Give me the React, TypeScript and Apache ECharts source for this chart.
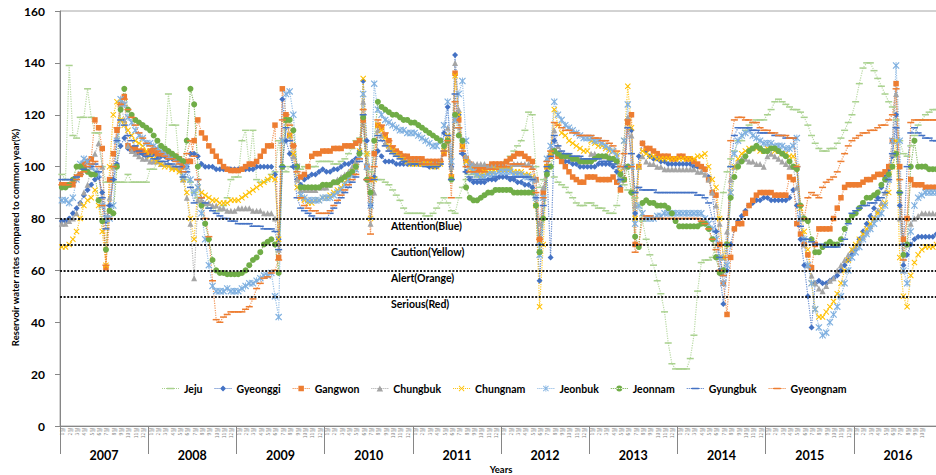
import React, { useEffect, useRef } from "react";
import * as echarts from "echarts";

const years = ["2007", "2008", "2009", "2010", "2011", "2012", "2013", "2014", "2015", "2016"];
const monthTicks = ["1월", "2월", "3월", "4월", "5월", "6월", "7월", "8월", "9월", "10월", "11월", "12월"];
const thresholdValues = [80, 70, 60, 50];
const thresholdLabels = ["Attention(Blue)", "Caution(Yellow)", "Alert(Orange)", "Serious(Red)"];
const seriesNames = ["Jeju", "Gyeonggi", "Gangwon", "Chungbuk", "Chungnam", "Jeonbuk", "Jeonnam", "Gyungbuk", "Gyeongnam"];

// half-monthly values, 24 per year, 2007..2016
const jeju = [
  97, 95, 139, 112, 111, 119, 119, 130, 119, 113, 113, 100, 94, 94, 94, 94, 94, 94, 97, 94, 94, 94, 94, 94,
  99, 99, 102, 105, 105, 128, 116, 116, 100, 96, 95, 94, 90, 88, 86, 85, 84, 84, 83, 83, 85, 88, 95, 96,
  96, 110, 114, 100, 114, 95, 94, 94, 95, 97, 98, 110, 100, 98, 100, 100, 99, 99, 100, 100, 100, 100, 102, 102,
  102, 102, 101, 101, 102, 103, 105, 107, 110, 111, 110, 105, 98, 96, 95, 95, 94, 93, 91, 89, 87, 84, 82, 82,
  82, 82, 82, 81, 81, 82, 84, 86, 88, 86, 83, 82, 88, 92, 95, 97, 97, 96, 96, 97, 98, 98, 99, 100,
  100, 102, 104, 106, 108, 110, 114, 121, 120, 100, 92, 95, 98, 100, 96, 94, 93, 92, 90, 88, 86, 85, 85, 86,
  86, 85, 84, 84, 83, 82, 82, 85, 95, 93, 91, 90, 88, 85, 79, 72, 66, 62, 56, 51, 44, 32, 24, 22,
  22, 22, 22, 26, 35, 52, 63, 64, 64, 65, 70, 80, 90, 98, 103, 106, 110, 110, 114, 116, 117, 118, 118, 118,
  120, 122, 125, 126, 125, 124, 123, 122, 122, 121, 119, 116, 112, 109, 107, 106, 106, 107, 107, 109, 111, 114, 117, 120,
  125, 132, 138, 140, 140, 137, 134, 131, 128, 125, 123, 118, 110, 105, 104, 108, 112, 116, 118, 120, 121, 122, 122, 122,
];
const gyeonggi = [
  79, 79, 80, 82, 84, 86, 89, 91, 93, 95, 96, 90, 79, 85, 95, 101, 108, 111, 107, 106, 106, 105, 105, 104,
  105, 105, 104, 104, 104, 103, 103, 103, 102, 95, 100, 105, 105, 104, 101, 100, 100, 100, 99, 99, 99, 99, 99, 99,
  99, 99, 99, 99, 99, 100, 100, 100, 100, 100, 97, 72, 126, 110, 105, 100, 95, 93, 95, 96, 97, 97, 98, 99,
  98, 98, 99, 99, 100, 101, 101, 102, 103, 106, 133, 110, 85, 96, 106, 104, 102, 102, 102, 101, 101, 101, 101, 101,
  101, 101, 101, 101, 100, 100, 100, 101, 113, 123, 100, 143, 120, 105, 98, 95, 94, 94, 94, 94, 95, 95, 95, 96,
  96, 96, 95, 95, 94, 94, 93, 93, 92, 85, 56, 80, 98, 65, 110, 104, 103, 102, 102, 101, 101, 100, 100, 100,
  100, 100, 101, 101, 101, 101, 100, 98, 92, 95, 118, 114, 82, 104, 109, 106, 104, 103, 103, 102, 102, 101, 101, 101,
  101, 101, 101, 101, 100, 100, 100, 99, 96, 90, 75, 60, 47, 60, 70, 76, 79, 81, 83, 85, 86, 87, 87, 88,
  88, 87, 87, 87, 87, 87, 88, 91, 85, 72, 62, 50, 38, 55, 56, 55, 55, 56, 57, 58, 60, 62, 64, 66,
  68, 72, 75, 78, 81, 84, 88, 92, 96, 99, 104, 120, 85, 62, 66, 70, 72, 73, 73, 73, 73, 73, 74, 74,
];
const gangwon = [
  93, 93, 93, 93, 96, 97, 101, 102, 103, 118, 115, 107, 61, 95, 105, 114, 124, 127, 108, 107, 107, 106, 106, 105,
  106, 106, 105, 105, 105, 104, 104, 104, 103, 100, 102, 102, 110, 118, 113, 111, 108, 106, 104, 102, 100, 99, 98.5, 98.5,
  98.5, 99, 100, 101, 101, 102, 104, 106, 108, 108, 116, 65, 130, 120, 112, 108, 100, 96, 97, 100, 104, 105, 105, 106,
  106, 106, 107, 107, 107, 108, 108, 108, 109, 110, 118, 100, 95, 105, 116, 115, 112, 110, 107, 106, 105, 104, 104, 103,
  103, 103, 103, 102, 102, 102, 102, 102, 105, 110, 96, 136, 118, 108, 103, 101, 100, 99, 99, 99, 100, 101, 101, 101,
  101, 102, 103, 104, 105, 105, 104, 103, 102, 95, 72, 90, 100, 104, 106, 104, 102, 100, 98, 96, 95, 94, 94, 96,
  96, 96, 95, 95, 95, 95, 96, 94, 91, 95, 117, 120, 70, 100, 109, 107, 107, 106, 105, 104, 104, 104, 103, 103,
  104, 104, 103, 103, 102, 101, 100, 99, 95, 90, 89, 70, 55, 43, 65, 76, 78, 78, 82, 85, 87, 89, 90, 90,
  90, 90, 89, 89, 89, 89, 96, 95, 78, 74, 70, 66, 61, 70, 76, 76, 76, 76, 80, 84, 88, 92, 93, 93,
  93, 93, 94, 95, 95, 96, 97, 97, 98, 100, 110, 132, 100, 72, 80, 95, 93, 93, 93, 92, 92, 92, 92, 92,
];
const chungbuk = [
  78, 78, 79, 80, 82, 86, 90, 93, 100, 105, 109, 100, 80, 88, 100, 111, 124, 118, 108, 106, 105, 104, 103, 103,
  102, 102, 102, 101, 101, 101, 100, 100, 99, 95, 88, 78, 57, 87, 87, 86, 86, 85, 85, 84, 84, 83, 83, 83,
  84, 84, 84, 84, 83, 83, 83, 82, 82, 82, 80, 68, 100, 118, 112, 104, 95, 91, 91, 91, 91, 91, 92, 92,
  92, 93, 94, 95, 96, 97, 98, 100, 102, 106, 125, 100, 78, 90, 114, 112, 109, 107, 106, 105, 104, 103, 102, 102,
  102, 102, 101, 101, 101, 101, 101, 102, 108, 115, 100, 140, 122, 110, 104, 102, 101, 101, 101, 101, 100, 100, 100, 100,
  100, 100, 100, 101, 101, 101, 101, 101, 100, 95, 78, 92, 103, 106, 114, 108, 105, 104, 104, 103, 103, 103, 102, 102,
  105, 105, 104, 104, 104, 104, 103, 102, 95, 100, 119, 112, 85, 100, 104, 102, 101, 101, 100, 100, 99, 99, 99, 99,
  99, 99, 99, 99, 99, 98, 98, 97, 95, 90, 85, 78, 65, 75, 95, 100, 102, 103, 103, 102, 102, 101, 101, 100,
  104, 105, 104, 103, 102, 101, 100, 100, 92, 80, 70, 62, 58, 55, 53, 52, 54, 56, 57, 60, 62, 64, 66, 68,
  69, 71, 73, 75, 77, 80, 83, 86, 90, 95, 105, 128, 80, 60, 70, 78, 80, 81, 82, 82, 82, 82, 82, 82,
];
const chungnam = [
  69, 69, 70, 72, 75, 80, 85, 87, 88, 91, 85, 75, 62, 100, 120, 125, 118, 116, 114, 112, 110, 109, 108, 106,
  104, 103, 102, 101, 100, 100, 99, 99, 98, 95, 90, 80, 72, 92, 90, 89, 88, 87, 87, 86, 86, 86, 87, 87,
  87, 88, 89, 90, 91, 92, 93, 94, 95, 96, 95, 72, 110, 118, 112, 105, 92, 88, 87, 86, 86, 87, 87, 88,
  88, 89, 90, 91, 92, 94, 96, 98, 100, 106, 134, 105, 80, 95, 116, 114, 111, 108, 106, 105, 104, 103, 102, 101,
  101, 101, 101, 101, 101, 100, 100, 101, 106, 112, 96, 135, 120, 108, 102, 99, 98, 97, 97, 98, 98, 98, 99, 99,
  99, 99, 99, 98, 98, 98, 97, 97, 96, 85, 46, 70, 100, 105, 122, 116, 113, 112, 110, 109, 108, 107, 106, 106,
  110, 109, 108, 108, 107, 106, 106, 105, 98, 110, 131, 115, 80, 100, 106, 105, 104, 104, 103, 103, 103, 103, 103, 103,
  103, 103, 103, 103, 103, 104, 104, 105, 100, 95, 92, 80, 65, 70, 90, 100, 103, 105, 106, 107, 107, 107, 106, 106,
  107, 107, 106, 106, 105, 105, 104, 104, 100, 84, 75, 68, 55, 45, 42, 42, 44, 46, 48, 51, 55, 60, 64, 68,
  70, 72, 74, 76, 78, 80, 82, 84, 86, 90, 100, 110, 65, 50, 46, 58, 63, 66, 68, 69, 69, 69, 70, 70,
];
const jeonbuk = [
  87, 87, 86, 88, 95, 101, 103, 102, 100, 98, 97, 85, 80, 80, 85, 110, 126, 124, 119, 117, 114, 112, 111, 109,
  109, 108, 107, 106, 105, 104, 104, 103, 102, 96, 100, 95, 90, 92, 82, 72, 62, 54, 52, 52, 52, 53, 52, 52,
  52, 53, 54, 55, 55, 56, 57, 58, 58, 59, 50, 42, 110, 128, 129, 120, 100, 89, 88, 87, 87, 87, 87, 88,
  88, 88, 89, 90, 91, 93, 95, 97, 99, 104, 128, 100, 85, 132, 122, 120, 118, 117, 116, 115, 114, 114, 113, 113,
  113, 112, 111, 110, 109, 108, 108, 110, 116, 125, 102, 118, 128, 133, 110, 100, 98, 97, 96, 96, 97, 97, 97, 98,
  98, 98, 98, 97, 97, 97, 96, 96, 95, 88, 66, 88, 103, 108, 125, 120, 118, 116, 115, 114, 113, 112, 111, 111,
  111, 110, 110, 109, 108, 107, 106, 104, 95, 110, 124, 100, 78, 85, 82, 80, 80, 80, 81, 81, 82, 82, 82, 82,
  82, 82, 82, 82, 82, 82, 82, 80, 78, 76, 72, 65, 55, 62, 90, 105, 110, 112, 113, 114, 112, 111, 110, 109,
  109, 109, 108, 108, 108, 107, 107, 108, 111, 80, 72, 62, 55, 45, 38, 35, 36, 40, 43, 46, 50, 55, 60, 65,
  67, 69, 72, 74, 76, 78, 80, 82, 85, 95, 110, 139, 110, 60, 55, 75, 85, 88, 89, 90, 90, 90, 90, 90,
];
const jeonnam = [
  92, 92, 93, 95, 100, 100, 99, 98, 97, 97, 87, 79, 68, 83, 82, 100, 122, 130, 122, 120, 118, 117, 116, 115,
  114, 112, 110, 108, 107, 106, 105, 104, 103, 102, 110, 130, 124, 100, 85, 78, 72, 64, 60, 59, 59, 58.5, 58.5, 58.5,
  58.5, 59, 60, 62, 64, 65, 67, 70, 71, 72, 70, 59, 100, 118, 118, 114, 100, 92, 92, 92, 92, 92, 92, 93,
  93, 93, 94, 94, 95, 96, 97, 98, 100, 105, 119, 95, 90, 110, 125, 123, 122, 121, 120, 120, 119, 118, 118, 117,
  117, 116, 115, 114, 113, 112, 111, 110, 108, 110, 95, 120, 112, 110, 92, 88, 87, 87, 88, 89, 90, 90, 91, 91,
  91, 91, 91, 90, 90, 90, 90, 90, 90, 85, 67, 80, 97, 100, 106, 105, 104, 104, 104, 103, 103, 102, 102, 102,
  102, 103, 104, 104, 104, 103, 103, 102, 97, 95, 100, 90, 73, 69, 86, 87, 86, 86, 85, 85, 85, 84, 82, 79,
  77, 77, 77, 77, 77, 77, 78, 78, 76, 72, 65, 59, 60, 70, 88, 96, 100, 102, 104, 106, 107, 108, 107, 106,
  106, 107, 107, 106, 105, 104, 102, 100, 99, 85, 80, 79, 72, 67, 67, 69, 70, 71, 70, 70, 72, 76, 79, 81,
  82, 84, 86, 88, 88, 89, 90, 93, 95, 97, 100, 105, 90, 66, 70, 100, 110, 100, 100, 100, 99, 99, 99, 99,
];
const gyungbuk = [
  95, 95, 95, 95, 96, 97, 99, 100, 100, 101, 98, 88, 76, 85, 95, 110, 118, 116, 112, 110, 108, 106, 105, 104,
  104, 103, 103, 102, 102, 101, 101, 100, 100, 96, 98, 92, 86, 95, 88, 86, 84, 83, 82, 81, 80, 80, 79, 79,
  78, 78, 78, 78, 77, 77, 77, 76, 76, 76, 75, 68, 100, 115, 110, 100, 88, 84, 83, 82, 81, 80, 80, 80,
  80, 82, 84, 86, 88, 90, 92, 94, 96, 102, 120, 95, 80, 95, 112, 110, 108, 106, 105, 104, 103, 102, 102, 101,
  101, 101, 101, 100, 100, 100, 100, 101, 106, 112, 95, 128, 115, 105, 98, 96, 95, 95, 95, 95, 95, 95, 96, 96,
  96, 96, 96, 96, 96, 96, 96, 96, 95, 88, 70, 85, 100, 104, 112, 108, 106, 105, 105, 104, 104, 104, 103, 103,
  103, 103, 103, 102, 102, 102, 101, 100, 95, 100, 115, 105, 90, 92, 91, 91, 91, 91, 90, 90, 90, 90, 90, 90,
  90, 90, 90, 90, 90, 89, 89, 88, 86, 80, 75, 65, 58, 70, 100, 112, 115, 115, 115, 115, 114, 114, 113, 113,
  113, 113, 112, 112, 112, 111, 111, 111, 100, 77, 72, 72, 71, 70, 70, 70, 69, 69, 69, 69, 70, 72, 78, 82,
  83, 84, 85, 85, 86, 86, 87, 88, 90, 95, 105, 115, 90, 70, 100, 113, 115, 113, 112, 111, 111, 110, 110, 110,
];
const gyeongnam = [
  93, 93, 93, 94, 95, 97, 98, 100, 101, 102, 100, 85, 62, 80, 100, 115, 124, 126, 122, 119, 116, 113, 111, 109,
  108, 107, 106, 105, 104, 103, 103, 102, 101, 98, 105, 110, 104, 95, 88, 80, 73, 56, 41, 40, 42, 43, 44, 44,
  44, 44, 45, 46, 49, 53, 55, 57, 57.5, 59, 60, 64, 118, 120, 116, 108, 98, 88, 85, 84, 83, 83, 82, 82,
  82, 83, 85, 87, 89, 91, 93, 95, 97, 103, 122, 95, 74, 100, 118, 116, 113, 110, 108, 106, 105, 104, 103, 102,
  102, 102, 101, 101, 101, 101, 101, 102, 106, 110, 88, 125, 115, 106, 100, 98, 98, 98, 98, 98, 99, 99, 99, 100,
  100, 100, 101, 101, 101, 101, 100, 100, 99, 90, 72, 88, 102, 106, 117, 116, 115, 114, 114, 113, 113, 112, 112, 112,
  112, 111, 111, 110, 110, 109, 108, 106, 100, 105, 118, 100, 67, 70, 80, 81, 81, 80, 80, 80, 80, 80, 80, 80,
  80, 80, 80, 80, 80, 80, 79, 78, 76, 72, 68, 60, 58, 65, 110, 118, 119, 119, 118, 118, 117, 117, 115, 114,
  114, 113, 113, 112, 112, 112, 111, 111, 100, 85, 80, 88, 90, 89, 88, 92, 94, 95, 96, 98, 102, 105, 108, 110,
  111, 112, 113, 113, 114, 114, 115, 116, 116, 118, 120, 130, 95, 64, 80, 117, 118, 118, 118, 118, 118, 118, 118, 118,
];

const seriesData = [jeju, gyeonggi, gangwon, chungbuk, chungnam, jeonbuk, jeonnam, gyungbuk, gyeongnam];
const seriesColors = ["#A9D18E", "#4472C4", "#ED7D31", "#A5A5A5", "#FFC000", "#7FB0E0", "#70AD47", "#4472C4", "#ED7D31"];

const X_SYM =
  "path://M0,1.2 L1.2,0 L5,3.8 L8.8,0 L10,1.2 L6.2,5 L10,8.8 L8.8,10 L5,6.2 L1.2,10 L0,8.8 L3.8,5 Z";
const AST_SYM =
  "path://M0,1.2 L1.2,0 L5,3.8 L8.8,0 L10,1.2 L6.2,5 L10,8.8 L8.8,10 L5,6.2 L1.2,10 L0,8.8 L3.8,5 Z M4.4,0 L5.6,0 L5.6,10 L4.4,10 Z";

const symbols: any[] = [
  { symbol: "rect", size: [7, 1.5] },
  { symbol: "diamond", size: 6 },
  { symbol: "rect", size: 5.5 },
  { symbol: "triangle", size: 6 },
  { symbol: X_SYM, size: 6 },
  { symbol: AST_SYM, size: 7 },
  { symbol: "circle", size: 6 },
  { symbol: "rect", size: [7, 1.5] },
  { symbol: "rect", size: [7, 1.5] },
];

// legend icons: dotted line + marker, drawn in a 34 x 16 box
const dots = Array.from({ length: 9 }, (_, k) => `M${k * 4},7h2v2h-2z`).join(" ");
const legendMarkers = [
  "M10,6.5h14v3h-14z",
  "M17,2L23,8L17,14L11,8Z",
  "M11.5,2.5h11v11h-11z",
  "M17,2L23.5,14L10.5,14Z",
  "M11.2,3.4L12.4,2.2L17,6.8L21.6,2.2L22.8,3.4L18.2,8L22.8,12.6L21.6,13.8L17,9.2L12.4,13.8L11.2,12.6L15.8,8Z",
  "M11.2,3.4L12.4,2.2L17,6.8L21.6,2.2L22.8,3.4L18.2,8L22.8,12.6L21.6,13.8L17,9.2L12.4,13.8L11.2,12.6L15.8,8Z M16.3,1.5h1.4v13h-1.4z",
  "M11,8A6,6 0 1,0 23,8A6,6 0 1,0 11,8Z",
  "M10,6.5h14v3h-14z",
  "M10,6.5h14v3h-14z",
];

export default function App() {
  const ref = useRef<HTMLDivElement>(null);
  useEffect(() => {
    if (!ref.current) return;
    const chart = echarts.init(ref.current, null, { renderer: "svg" });
    const categories: string[] = [];
    years.forEach((y) => {
      for (let h = 0; h < 24; h++) categories.push(`${y}-${h}`);
    });
    const lastLabelIndex = categories.length - 4;

    const series: any[] = seriesNames.map((name, i) => ({
      name,
      type: "line",
      data: seriesData[i],
      xAxisIndex: 0,
      symbol: symbols[i].symbol,
      symbolSize: symbols[i].size,
      showAllSymbol: true,
      itemStyle: { color: seriesColors[i] },
      lineStyle: { color: seriesColors[i], width: 1.2, type: "dotted", opacity: 0.8 },
      emphasis: { disabled: true },
    }));

    series.push({
      name: "thresholds",
      type: "line",
      data: categories.map(() => null),
      symbol: "none",
      silent: true,
      z: 5,
      markLine: {
        silent: true,
        symbol: "none",
        animation: false,
        lineStyle: { color: "#1a1a1a", width: 2, type: [2, 1.6] },
        label: {
          show: true,
          position: "insideStartBottom",
          formatter: (p: any) => p.name,
          padding: [0, 0, 0, 329],
          distance: 2,
          color: "#000",
          fontWeight: "bold",
          fontSize: 10.5,
          fontFamily: "Lato",
        },
        data: thresholdValues.map((v, i) => ({ yAxis: v, name: thresholdLabels[i] })),
      },
    });

    chart.setOption({
      animation: false,
      backgroundColor: "#fff",
      textStyle: { fontFamily: "Lato" },
      grid: {
        left: 60,
        right: -6,
        top: 11,
        bottom: 49,
        show: true,
        borderColor: "#A6A6A6",
        borderWidth: 1,
        outerBoundsMode: "none",
        containLabel: false,
      },
      legend: {
        data: seriesNames.map((n, i) => ({ name: n, icon: `path://${dots} ${legendMarkers[i]}` })),
        left: 157,
        top: 378,
        itemGap: 12,
        itemWidth: 17,
        itemHeight: 8,
        symbolKeepAspect: true,
        textStyle: { fontSize: 10.5, fontWeight: "bold", color: "#000", fontFamily: "Lato" },
      },
      xAxis: [
        {
          type: "category",
          data: categories,
          boundaryGap: true,
          axisLine: { show: true, lineStyle: { color: "#868686" } },
          axisTick: { show: false },
          axisLabel: {
            interval: (index: number) => index % 2 === 0 && index < lastLabelIndex,
            formatter: (_v: string, index: number) => monthTicks[Math.floor((index % 24) / 2)],
            rotate: 90,
            fontSize: 5,
            margin: 2,
            color: "#7f7f7f",
            fontFamily: "Noto Sans CJK KR",
          },
        },
        {
          type: "category",
          data: years,
          position: "bottom",
          boundaryGap: true,
          axisLine: { show: true, lineStyle: { color: "#868686" } },
          axisTick: { show: true, length: 28, lineStyle: { color: "#868686" } },
          axisLabel: { margin: 23, fontSize: 12.5, fontWeight: "bold", color: "#000" },
          name: "Years",
          nameLocation: "middle",
          nameGap: 38,
          nameMoveOverlap: false,
          nameTextStyle: { fontSize: 9.5, fontWeight: "bold", color: "#000" },
        },
      ],
      yAxis: {
        type: "value",
        min: 0,
        max: 160,
        interval: 20,
        axisLine: { show: true, lineStyle: { color: "#868686" } },
        axisTick: { show: true, length: 5, lineStyle: { color: "#868686" } },
        splitLine: { show: false },
        axisLabel: { fontSize: 12, fontWeight: "bold", color: "#000", margin: 15 },
        name: "Reservoir water rates compared to common year(%)",
        nameLocation: "middle",
        nameGap: 40,
        nameMoveOverlap: false,
        nameTextStyle: { fontSize: 9.5, fontWeight: "bold", color: "#000", padding: [0, 38, 0, 0] },
      },
      series,
    });
    return () => chart.dispose();
  }, []);
  return (
    <div
      ref={ref}
      style={{ position: "fixed", left: 0, top: 0, width: 936, height: 475, background: "#fff" }}
    />
  );
}
